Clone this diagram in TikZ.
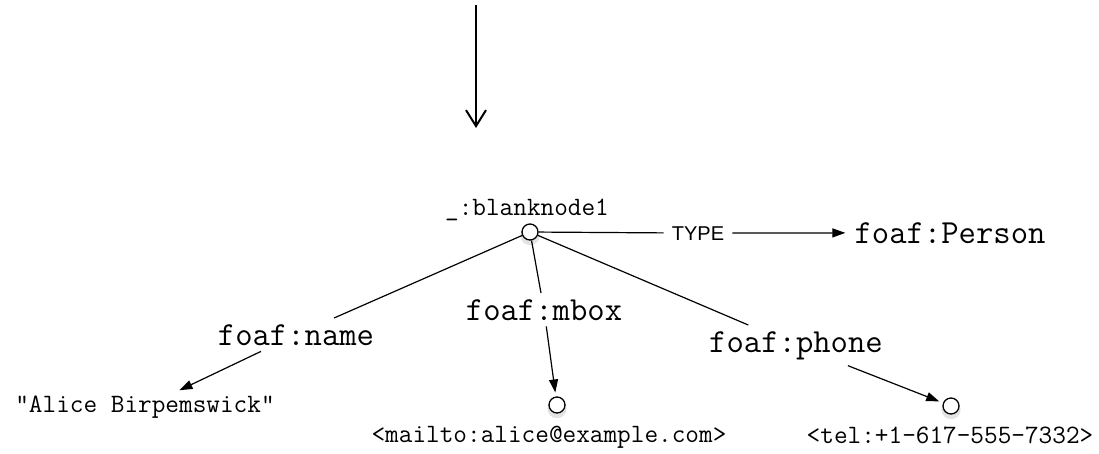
\documentclass[tikz,border=0pt]{standalone}
\usepackage{fontspec}
\setsansfont{Liberation Sans}
\usepackage{tikz}
\usetikzlibrary{arrows.meta,shadows}
\tikzstyle{Res}=[circle, draw=black, fill=white, line width=1.3pt, minimum size=16pt, inner sep=0pt, drop shadow={opacity=0.22, shadow xshift=0pt, shadow yshift=-3pt, shadow scale=1.2}]
\tikzstyle{Prop}=[font=\ttfamily\fontsize{33.7}{34}\selectfont, inner sep=6pt, anchor=base]
\tikzstyle{Lit}=[font=\ttfamily\fontsize{26.5}{27}\selectfont, inner sep=5pt, anchor=base]
\tikzstyle{Edge}=[line width=1.2pt]
\tikzstyle{Arc}=[line width=1.2pt, -{Triangle[length=13pt,width=9pt]}]

\begin{document}
\begin{tikzpicture}[x=1pt, y=-1pt]
    \useasboundingbox (0,0) rectangle (1099,453);
    \path
    (530,232) node[Res] (bnode) {}
    (557,405) node[Res] (mail) {}
    (951,406) node[Res] (tel) {};

    \path (527,215) node[Lit] (bname) {\_:blanknode1}
    (698,240) node[anchor=base, font=\sffamily\fontsize{20}{21}\selectfont, inner sep=8pt] (type) {TYPE}
    (950,243) node[Prop, inner sep=9pt] (person) {foaf:Person}
    (296,345) node[Prop] (name) {foaf:name}
    (544,320) node[Prop] (mbox) {foaf:mbox}
    (796,352) node[Prop] (phone) {foaf:phone}
    (145,412) node[Lit] (alice) {"Alice Birpemswick"}
    (549,442) node[Lit] (mailto) {<mailto:alice@example.com>}
    (950,443) node[Lit] (telno) {<tel:+1-617-555-7332>};

    % incoming arrow
    \coordinate (src) at (476,5);
    \coordinate (dst) at (476,128);
    \draw[line width=2pt, -{Straight Barb[length=16pt,width=20pt]}] (src) -- (dst);

    \draw[Edge] (bnode) -- (type);
    \draw[Arc] (type) -- (person);
    \draw[Edge] (bnode) -- (name);
    \draw[Arc] (name) -- (alice);
    \draw[Edge] (bnode) -- (mbox);
    \draw[Arc, shorten >=4pt] (mbox) -- (mail);
    \draw[Edge] (bnode) -- (phone);
    \draw[Arc, shorten >=4pt] (phone) -- (tel);
\end{tikzpicture}
\end{document}
